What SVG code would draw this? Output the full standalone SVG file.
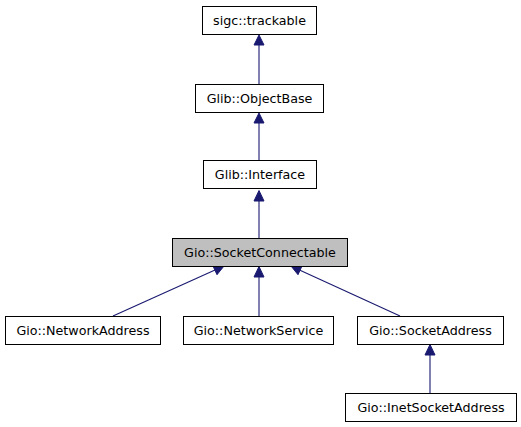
<svg xmlns="http://www.w3.org/2000/svg" width="521" height="427" viewBox="0 0 521 427">
<style>
.n rect{fill:#fff;stroke:#000;stroke-width:1}
.n.h rect{fill:#bfbfbf}
.n text{font-family:"DejaVu Sans","Liberation Sans",sans-serif;font-size:12.7px;text-anchor:middle;fill:#000}
.e line{stroke:#191970;stroke-width:1.1}
.e polygon{fill:#191970;stroke:#191970;stroke-width:1}
</style>
<rect width="521" height="427" fill="#fff"/>
<g id="edges" class="e">
<line x1="259" y1="84" x2="259" y2="45"/><polygon points="259,35 254,45 264,45"/>
<line x1="259" y1="160" x2="259" y2="123"/><polygon points="259,113 254,123 264,123"/>
<line x1="259" y1="238" x2="259" y2="201"/><polygon points="259,190.5 254,201 264,201"/>
<line x1="259" y1="316" x2="259" y2="277"/><polygon points="259,266.5 254,277 264,277"/>
<line x1="113" y1="316" x2="215" y2="270.1"/><polygon points="224,266 212.8,265.6 217,274.7"/>
<line x1="400" y1="316" x2="300" y2="270.2"/><polygon points="291,266 302.2,265.6 298,274.7"/>
<line x1="430" y1="393" x2="430" y2="355"/><polygon points="430,344.5 425,355 435,355"/>
</g>
<g id="trackable" class="n"><rect x="202.5" y="6.5" width="114" height="28"/><text x="259.5" y="25">sigc::trackable</text></g>
<g id="objectbase" class="n"><rect x="195.5" y="84.5" width="128" height="28"/><text x="259.5" y="103">Glib::ObjectBase</text></g>
<g id="interface" class="n"><rect x="203.5" y="160.5" width="113" height="28"/><text x="260" y="179">Glib::Interface</text></g>
<g id="socketconnectable" class="n h"><rect x="172.5" y="238.5" width="175" height="28"/><text x="260" y="257">Gio::SocketConnectable</text></g>
<g id="networkaddress" class="n"><rect x="5.5" y="316.5" width="155" height="28"/><text x="83" y="335">Gio::NetworkAddress</text></g>
<g id="networkservice" class="n"><rect x="183.5" y="316.5" width="150" height="28"/><text x="258.5" y="335">Gio::NetworkService</text></g>
<g id="socketaddress" class="n"><rect x="357.5" y="316.5" width="146" height="28"/><text x="430.5" y="335">Gio::SocketAddress</text></g>
<g id="inetsocketaddress" class="n"><rect x="345.5" y="393.5" width="171" height="28"/><text x="431" y="412">Gio::InetSocketAddress</text></g>
</svg>
